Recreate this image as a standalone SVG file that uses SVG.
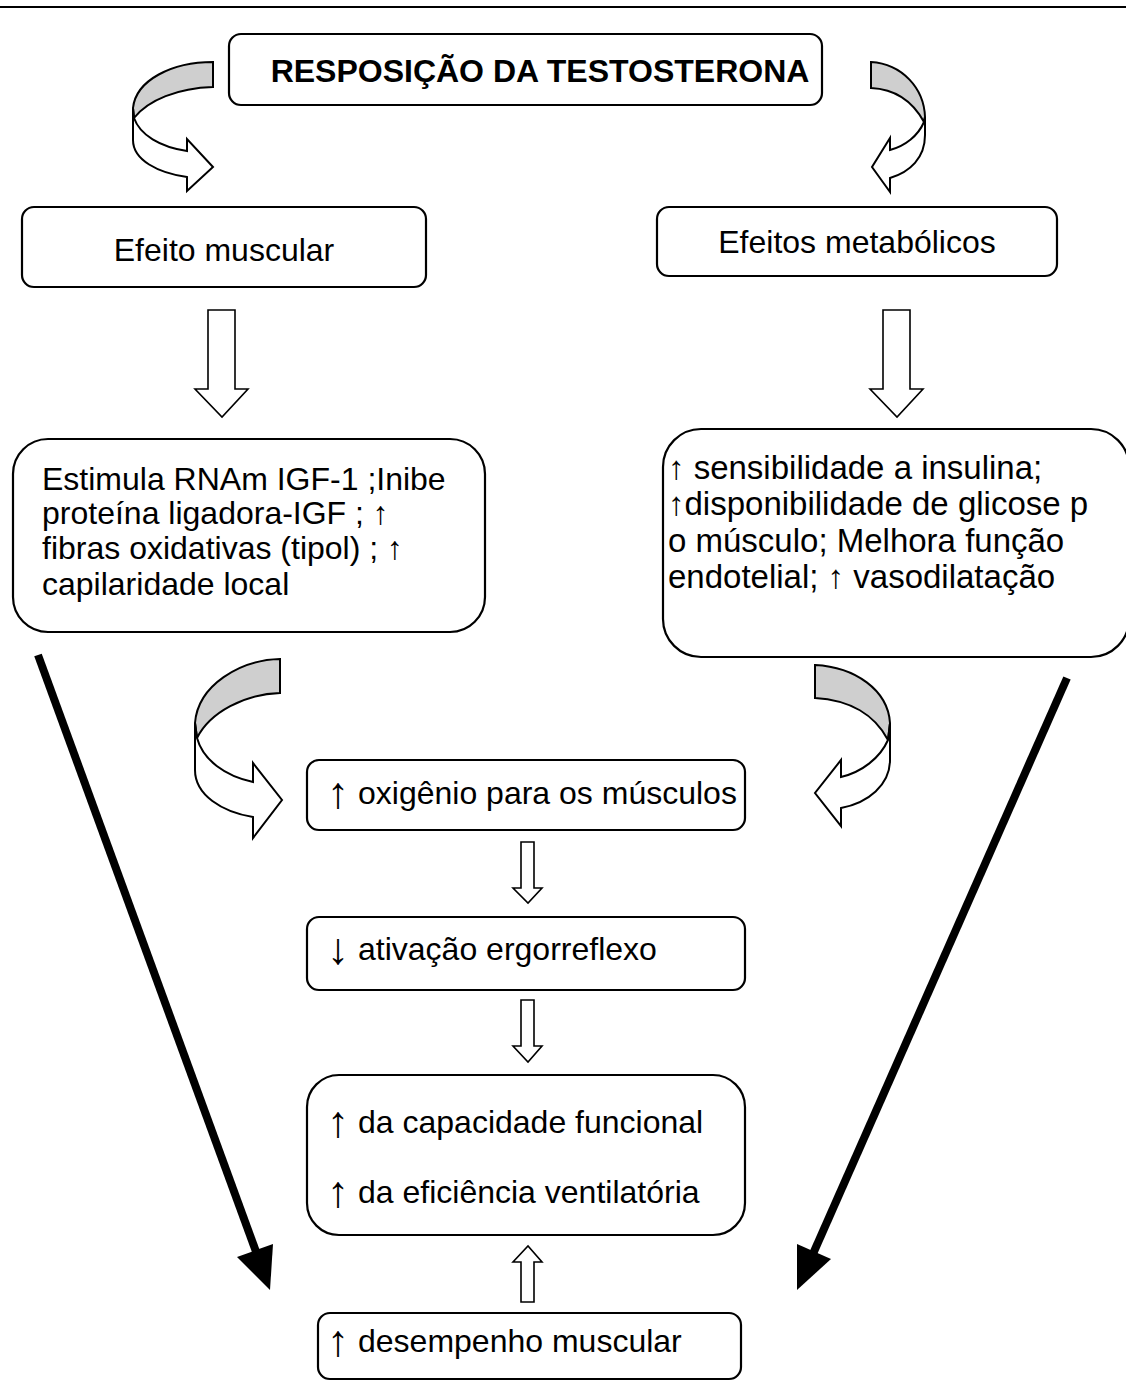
<svg xmlns="http://www.w3.org/2000/svg" width="1126" height="1381" viewBox="0 0 1126 1381">
<style>
.box{fill:#fff;stroke:#000;stroke-width:2.2}
.t{font-family:"Liberation Sans",Arial,sans-serif;font-size:32px;fill:#000}
.t33{font-family:"Liberation Sans",Arial,sans-serif;font-size:33px;fill:#000}
.tb{font-family:"Liberation Sans",Arial,sans-serif;font-size:32px;font-weight:bold;fill:#000}
.ar{font-size:44px}
.blk{fill:#fff;stroke:#000;stroke-width:1.6;stroke-linejoin:miter}
.cg{fill:#cfcfcf;stroke:#000;stroke-width:2}
.cw{fill:#fff;stroke:#000;stroke-width:2}
.bl{stroke:#000;stroke-width:8;fill:none}
</style>
<rect width="1126" height="1381" fill="#fff"/>
<line x1="0" y1="7" x2="1126" y2="7" stroke="#000" stroke-width="2"/>

<g id="n-titulo">
<rect class="box" x="229" y="34" width="593" height="71" rx="12"/>
<text class="tb" x="540" y="82" text-anchor="middle">RESPOSIÇÃO DA TESTOSTERONA</text>
</g>
<g id="n-efeito-muscular">
<rect class="box" x="22" y="207" width="404" height="80" rx="12"/>
<text class="t" x="224" y="261" text-anchor="middle">Efeito muscular</text>
</g>
<g id="n-efeitos-metabolicos">
<rect class="box" x="657" y="207" width="400" height="69" rx="12"/>
<text class="t" x="857" y="253" text-anchor="middle">Efeitos metabólicos</text>
</g>
<g id="n-muscular-detalhe">
<rect class="box" x="13" y="439" width="472" height="193" rx="35"/>
<text class="t" x="42" y="490">Estimula RNAm IGF-1 ;Inibe</text>
<text class="t" x="42" y="524">proteína ligadora-IGF ; ↑</text>
<text class="t" x="42" y="559">fibras oxidativas (tipol) ; ↑</text>
<text class="t" x="42" y="595">capilaridade local</text>
</g>
<g id="n-metabolico-detalhe">
<rect class="box" x="663" y="429" width="466" height="228" rx="38"/>
<text class="t33" x="668" y="479">↑ sensibilidade a insulina;</text>
<text class="t33" x="668" y="515">↑disponibilidade de glicose p</text>
<text class="t33" x="668" y="552">o músculo; Melhora função</text>
<text class="t33" x="668" y="588">endotelial; ↑ vasodilatação</text>
</g>
<g id="n-oxigenio">
<rect class="box" x="307" y="760" width="438" height="70" rx="12"/>
<text class="t" x="327" y="804"><tspan class="ar" dy="4">↑</tspan><tspan x="358" dy="-4">oxigênio para os músculos</tspan></text>
</g>
<g id="n-ergorreflexo">
<rect class="box" x="307" y="917" width="438" height="73" rx="12"/>
<text class="t" x="327" y="960"><tspan class="ar" dy="4">↓</tspan><tspan x="358" dy="-4">ativação ergorreflexo</tspan></text>
</g>
<g id="n-capacidade">
<rect class="box" x="307" y="1075" width="438" height="160" rx="32"/>
<text class="t" x="327" y="1133"><tspan class="ar" dy="4">↑</tspan><tspan x="358" dy="-4">da capacidade funcional</tspan></text>
<text class="t" x="327" y="1203"><tspan class="ar" dy="4">↑</tspan><tspan x="358" dy="-4">da eficiência ventilatória</tspan></text>
</g>
<g id="n-desempenho">
<rect class="box" x="318" y="1313" width="423" height="66" rx="12"/>
<text class="t" x="327" y="1352"><tspan class="ar" dy="4">↑</tspan><tspan x="358" dy="-4">desempenho muscular</tspan></text>
</g>

<g id="connectors">
<path class="cg" d="M213,62 C172,62 136,80 133,108 L134,118 C148,100 178,88 213,87 Z"/>
<path class="cw" d="M133,108 L133,140 C133,160 158,173 187,177 L187,191 L213,167 L187,139 L187,151 C160,147 140,135 134,118 Z"/>
<path class="cg" d="M871,62 C902,64 924,88 925,117 L924,122 C912,100 893,89 871,88 Z"/>
<path class="cw" d="M925,117 L925,135 C925,158 910,172 890,178 L890,192 L872,167 L890,138 L890,150 C905,146 918,136 924,122 Z"/>
<path class="blk" d="M208,310 L235,310 L235,389 L248,389 L222,417 L195,389 L208,389 Z"/>
<path class="blk" d="M883,310 L910,310 L910,389 L923,389 L897,417 L870,389 L883,389 Z"/>
<path class="cg" d="M280,659 C240,660 198,685 195,723 L197,738 C210,712 245,694 280,693 Z"/>
<path class="cw" d="M195,723 L195,770 C195,795 222,812 253,817 L253,838 L282,800 L253,763 L253,782 C225,776 203,760 197,738 Z"/>
<path class="cg" d="M815,665 C855,667 888,690 890,723 L888,740 C875,715 850,700 815,698 Z"/>
<path class="cw" d="M890,723 L890,760 C890,785 868,803 841,808 L841,826 L815,793 L841,760 L841,777 C862,772 880,758 888,740 Z"/>
<path class="blk" d="M521,842 L534,842 L534,888 L542,888 L528,903 L513,888 L521,888 Z"/>
<path class="blk" d="M521,1000 L534,1000 L534,1046 L542,1046 L528,1062 L513,1046 L521,1046 Z"/>
<path class="blk" d="M521,1302 L534,1302 L534,1262 L542,1262 L528,1246 L513,1262 L521,1262 Z"/>
<line class="bl" x1="38" y1="655" x2="256.3" y2="1252.4"/>
<polygon points="270,1290 237,1257 273,1244" fill="#000"/>
<line class="bl" x1="1067" y1="678" x2="813.2" y2="1253.4"/>
<polygon points="797,1290 831,1259 797,1244" fill="#000"/>
</g>
</svg>
